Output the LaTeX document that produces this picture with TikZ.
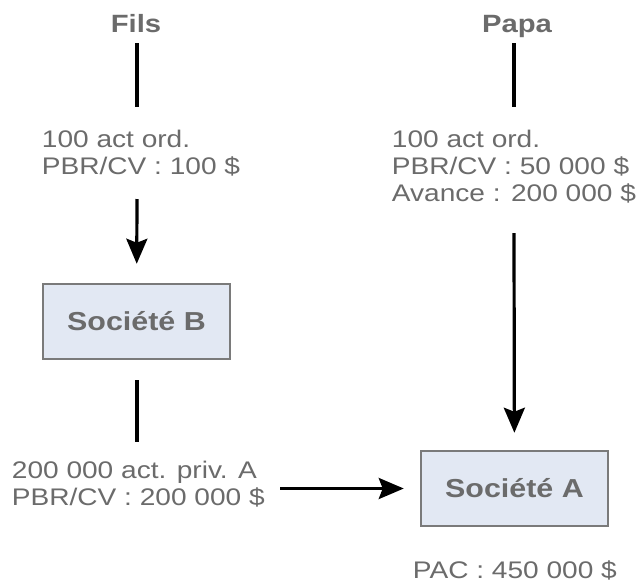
\documentclass[tikz,border=0pt]{standalone}
\usepackage{fontspec}
\setmainfont{Liberation Sans}[FakeStretch=1.17]
\usetikzlibrary{arrows.meta}
\definecolor{txtgray}{HTML}{6B6B6B}
\definecolor{boxfill}{HTML}{E2E8F3}
\definecolor{boxline}{HTML}{7A7A7A}
\tikzset{
  lbl/.style={inner sep=0pt, text=txtgray, align=left,
              font=\fontsize{24}{27}\selectfont},
  head/.style={inner sep=0pt, text=txtgray, font=\fontsize{25}{27}\selectfont\bfseries},
  company/.style={draw=boxline, line width=2.5pt, fill=boxfill,
                  minimum width=187pt, minimum height=75pt, inner sep=0pt,
                  text=txtgray, font=\fontsize{26}{27}\selectfont\bfseries},
  link/.style={line width=3.2pt, black},
  arr/.style={line width=3.2pt, black, -{Stealth[length=25pt,width=21pt,inset=4pt]}}
}
\begin{document}
\begin{tikzpicture}[x=1pt,y=-1pt]
\useasboundingbox (0,0) rectangle (638,584);

% shareholders
\node[head, anchor=base] (fils) at (136,32) {Fils};
\node[head, anchor=base] (papa) at (517,32) {Papa};

% share descriptions (anchored on the baseline of their last line)
\node[lbl, anchor=base west] (filsact) at (41.7,174) {100 act ord.\\PBR/CV : 100 \$};
\node[lbl, anchor=base west] (papaact) at (391.7,201) {100 act ord.\\PBR/CV : 50 000 \$\\Avance : 200 000 \$};
\node[lbl, anchor=base west] (privA) at (11.7,505) {200 000 act. priv. A\\PBR/CV : 200 000 \$};
\node[lbl, anchor=base west] (pac) at (412.7,578) {PAC : 450 000 \$};

% companies
\node[company] (socB) at (136.5,321.5) {Société B};
\node[company] (socA) at (514.5,488.5) {Société A};

% connector end points
\coordinate (f1) at (137,43);
\coordinate (f2) at (137,107);
\coordinate (f3) at (137,199);
\coordinate (b1) at (137,380);
\coordinate (b2) at (137,442);
\coordinate (p1) at (514,43);
\coordinate (p2) at (514,107);
\coordinate (p3) at (514,233);
\coordinate (h1) at (280,488.5);

\draw[link] (f1) -- (f2);
\draw[arr, shorten >=19pt] (f3) -- (socB);
\draw[link] (b1) -- (b2);
\draw[link] (p1) -- (p2);
\draw[arr, shorten >=17pt] (p3) -- (socA);
\draw[arr, shorten >=16pt] (h1) -- (socA);
\end{tikzpicture}
\end{document}
